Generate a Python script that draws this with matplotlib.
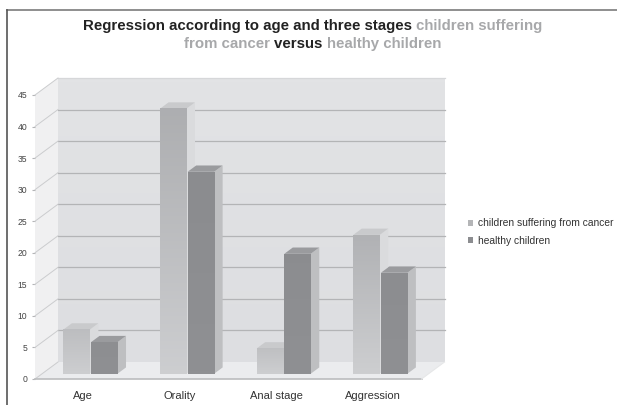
import numpy as np
import matplotlib
matplotlib.use("Agg")
import matplotlib.pyplot as plt
from matplotlib.colors import LinearSegmentedColormap
from matplotlib.lines import Line2D
from matplotlib.patches import Patch, Polygon

plt.rcParams['font.family'] = ['Liberation Sans', 'DejaVu Sans']

categories = ['Age', 'Orality', 'Anal stage', 'Aggression']
cancer_values = [7, 42, 4, 22]
healthy_values = [5, 32, 19, 16]
series_names = ['children suffering from cancer', 'healthy children']
y_ticks = [0, 5, 10, 15, 20, 25, 30, 35, 40, 45]

W, H = 617, 405
fig = plt.figure(figsize=(W / 100, H / 100), dpi=100, facecolor='white')

# front plane of the fake 3D box, in pixels
left, right, floor_y, top_y = 35, 421.5, 379, 95
ax = fig.add_axes([left / W, 1 - floor_y / H, (right - left) / W, (floor_y - top_y) / H])
ax.set_xlim(-0.5, 3.5)
ax.set_ylim(0, 45)
ax.patch.set_visible(False)
for s in ax.spines.values():
    s.set_visible(False)

# depth of the box in data units
depth_x = 23 / ((right - left) / 4)
depth_y = 17 / ((floor_y - top_y) / 45)


def shifted(x, y, d):
    return x + d * depth_x, y + d * depth_y


def poly(points, color, z):
    ax.add_patch(Polygon(points, closed=True, fc=color, ec='none', zorder=z, clip_on=False))


x0, x1 = -0.5, 3.5

# back wall, side wall, floor
ax.imshow(np.linspace(0, 1, 64).reshape(-1, 1),
          extent=[shifted(x0, 0, 1)[0], shifted(x1, 0, 1)[0], shifted(0, 0, 1)[1], shifted(0, 45, 1)[1]],
          cmap=LinearSegmentedColormap.from_list('wall', ['#dddee1', '#e2e3e5']),
          origin='lower', aspect='auto', zorder=1, clip_on=False)
ax.set_xlim(x0, x1)
ax.set_ylim(0, 45)
poly([(x0, 0), shifted(x0, 0, 1), shifted(x0, 45, 1), (x0, 45)], '#f0f0f1', 1)
poly([(x0, 0), (x1, 0), shifted(x1, 0, 1), shifted(x0, 0, 1)], '#ebecee', 1)

# grid lines run along the side wall and across the back wall
for v in y_ticks:
    xa, ya = shifted(x0, v, 1)
    xb, yb = shifted(x1, v, 1)
    grid_color = '#d6d7d9' if v == 45 else '#b3b4b6'
    if v > 0:
        ax.plot([xa, xb], [ya, yb], color=grid_color, lw=0.9, zorder=2, clip_on=False)
    ax.plot([x0, xa], [v, ya], color='#cbccce', lw=0.7, zorder=2, clip_on=False)
ax.plot([x0, x1], [0, 0], color='#bbbcbe', lw=1.2, zorder=2, clip_on=False)
ax.plot([x1, shifted(x1, 0, 1)[0]], [0, shifted(x1, 0, 1)[1]], color='#e6e7e8', lw=0.8, zorder=2, clip_on=False)

# bars sit in the middle of the box depth
bar_w = 0.274
gap = 0.012
d_front, d_back = 0.31, 0.68
cancer_map = LinearSegmentedColormap.from_list('cancer', ['#cdced0', '#adaeb1'])
healthy_map = LinearSegmentedColormap.from_list('healthy', ['#8f9093', '#8b8c8f'])
pos = np.arange(len(categories))


def draw_bars(values, offset, cmap, top_color, side_color, z):
    bx = pos + offset + d_front * depth_x
    base = d_front * depth_y
    bars = ax.bar(bx, values, width=bar_w, bottom=base, color='none', linewidth=0, zorder=z)
    for b, v in zip(bars, values):
        l, r = b.get_x(), b.get_x() + b.get_width()
        t = base + v
        dd = d_back - d_front
        poly([(r, base), shifted(r, base, dd), shifted(r, t, dd), (r, t)], side_color, z)
        poly([(l, t), (r, t), shifted(r, t, dd), shifted(l, t, dd)], top_color, z)
        # short bars only reach part of the way along the fade
        frac = np.linspace(0, min(1, v / 42 + 0.35), 64).reshape(-1, 1)
        ax.imshow(frac, extent=[l, r, base, t], cmap=cmap, vmin=0, vmax=1,
                  origin='lower', aspect='auto', zorder=z + 0.1)


draw_bars(cancer_values, -bar_w / 2 - gap / 2, cancer_map, '#c9cacc', '#dadbdd', 3)
draw_bars(healthy_values, bar_w / 2 + gap / 2, healthy_map, '#9a9b9e', '#bebfc1', 4)
ax.set_xlim(x0, x1)
ax.set_ylim(0, 45)

ax.set_yticks(y_ticks)
ax.set_yticklabels([str(v) for v in y_ticks], fontsize=6.2, color='#444444')
ax.tick_params(axis='y', length=2.2, width=0.8, color='#b4b5b7', pad=3.5)
ax.set_xticks(pos)
ax.set_xticklabels(categories, fontsize=8.0, color='#333333')
ax.tick_params(axis='x', length=0, pad=8.5)

ax.legend(handles=[Patch(fc='#b4b5b7', label=series_names[0]),
                   Patch(fc='#8c8d90', label=series_names[1])],
          loc='upper left', bbox_to_anchor=(468 / W, 1 - 218.5 / H), bbox_transform=fig.transFigure,
          frameon=False, fontsize=7.4, labelcolor='#333333', handlelength=0.5, handleheight=0.5,
          handletextpad=0.45, labelspacing=0.72, borderpad=0, borderaxespad=0)

# title lines are built from coloured runs
DARK, GREY = '#222222', '#a7a8aa'
title_lines = [
    (83, 26, [('Regression according to age and three stages ', DARK), ('children suffering', GREY)]),
    (184, 44, [('from cancer ', GREY), ('versus ', DARK), ('healthy children', GREY)]),
]
renderer = fig.canvas.get_renderer()
for px, py, runs in title_lines:
    for txt, col in runs:
        # trailing spaces do not count in the extent, so measure with a stand-in
        t = fig.text(px / W, 1 - py / H, txt, fontsize=10.8, fontweight='bold', color=col, va='center', ha='left')
        probe = fig.text(0, 0, txt.replace(' ', '\u00a0'), fontsize=10.8, fontweight='bold')
        px += probe.get_window_extent(renderer).width
        probe.remove()

# thin frame along the top and left edge
fig.add_artist(Line2D([7 / W, 1], [1 - 10 / H, 1 - 10 / H], color='#7b7b7b', lw=1.2))
fig.add_artist(Line2D([7 / W, 7 / W], [1 - 10 / H, 0], color='#555555', lw=1.2))

fig.savefig('out.png', dpi=100)
